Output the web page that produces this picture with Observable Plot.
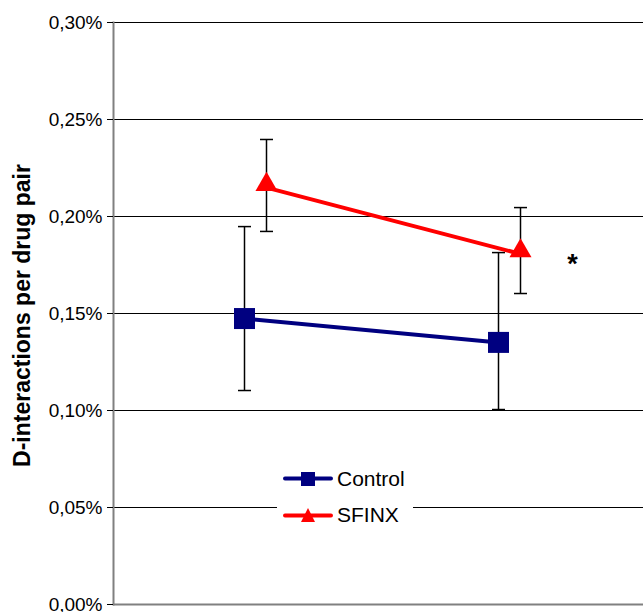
<!DOCTYPE html>
<html><head><meta charset="utf-8">
<script src="https://cdn.jsdelivr.net/npm/d3@7"></script>
<script src="https://cdn.jsdelivr.net/npm/@observablehq/plot@0.6"></script>
<style>
body{margin:0;background:#fff;}
#wrap{position:relative;width:643px;height:612px;font-family:"Liberation Sans",Arial,Helvetica,sans-serif;}
#legend{position:absolute;left:277px;top:463px;width:136px;height:68px;background:#fff;}
.item{position:absolute;left:6px;height:24px;display:flex;align-items:center;font-size:21px;color:#000;}
.item svg{margin-right:4px;}
</style>
</head><body><div id="wrap"></div>
<script>
const periods = ["Before", "After"];
const groups = ["Control", "SFINX"];
const colors = ["#000080", "#FF0000"];
const controlMean = [0.1474, 0.1351];
const controlLow = [0.1103, 0.1005];
const controlHigh = [0.1948, 0.1814];
const sfinxMean = [0.2149, 0.1807];
const sfinxLow = [0.1923, 0.1603];
const sfinxHigh = [0.2397, 0.2046];
const yTicks = [0, 0.05, 0.10, 0.15, 0.20, 0.25, 0.30];
const yLabel = "D-interactions per drug pair";
const significance = "*";

const control = periods.map((p, i) => ({period: p, mean: controlMean[i], low: controlLow[i], high: controlHigh[i]}));
const sfinx = periods.map((p, i) => ({period: p, mean: sfinxMean[i], low: sfinxLow[i], high: sfinxHigh[i]}));

const capSymbol = {draw(ctx) { ctx.moveTo(-6.5, 0); ctx.lineTo(6.5, 0); }};
const off = 22;

function errorMarks(data, dx) {
  return [
    Plot.ruleX(data, {x: "period", y1: "low", y2: "high", stroke: "#000", strokeWidth: 1.5, dx}),
    Plot.dot(data, {x: "period", y: "low", symbol: capSymbol, stroke: "#000", strokeWidth: 1.5, r: 5, dx}),
    Plot.dot(data, {x: "period", y: "high", symbol: capSymbol, stroke: "#000", strokeWidth: 1.5, r: 5, dx})
  ];
}

const chart = Plot.plot({
  width: 643,
  height: 612,
  marginLeft: 113,
  marginRight: 0,
  marginTop: 22,
  marginBottom: 8,
  style: {fontFamily: '"Liberation Sans", Arial, sans-serif', background: "#fff"},
  x: {type: "point", domain: periods, range: [243.5, 497.5], padding: 0, axis: null},
  y: {domain: [0, 0.30], label: null},
  marks: [
    Plot.ruleY(yTicks.filter(d => d > 0), {stroke: "#000", strokeWidth: 1}),
    Plot.ruleY([0], {stroke: "#808080", strokeWidth: 2}),
    Plot.frame({anchor: "left", stroke: "#808080", strokeWidth: 2}),
    Plot.axisY(yTicks, {tickSize: 6, tickPadding: 5, fontSize: 19, label: null, stroke: "#000",
      tickFormat: d => d.toFixed(2).replace(".", ",") + "%"}),
    Plot.text([yLabel], {frameAnchor: "left", text: d => d, rotate: -90, textAnchor: "middle", dx: -91, dy: 2,
      fontSize: 23, fontWeight: "bold", fill: "#000"}),
    ...errorMarks(control, 0),
    ...errorMarks(sfinx, off),
    Plot.line(control, {x: "period", y: "mean", stroke: colors[0], strokeWidth: 4}),
    Plot.line(sfinx, {x: "period", y: "mean", stroke: colors[1], strokeWidth: 4, dx: off}),
    Plot.dot(control, {x: "period", y: "mean", symbol: "square", r: 11.85, fill: colors[0]}),
    Plot.dot(sfinx, {x: "period", y: "mean", symbol: "triangle", r: 8.2, fill: colors[1], dx: off, dy: -3}),
    Plot.text(sfinx.slice(1), {x: "period", y: "mean", text: () => significance, dx: off + 52, dy: 10,
      fontSize: 27, fontWeight: "bold", fill: "#000"})
  ]
});

const wrap = document.getElementById("wrap");
wrap.appendChild(chart);

const legend = document.createElement("div");
legend.id = "legend";
groups.forEach((g, i) => {
  const item = document.createElement("div");
  item.className = "item";
  item.style.top = (i === 0 ? 4 : 40) + "px";
  const marker = i === 0
    ? `<rect x="18" y="0" width="14" height="14" fill="${colors[i]}"/>`
    : `<path d="M25,0 L32,14 L18,14 Z" fill="${colors[i]}"/>`;
  item.innerHTML = `<svg width="50" height="14" viewBox="0 0 50 14"><line x1="2" y1="${i===0?6.5:7.5}" x2="48" y2="${i===0?6.5:7.5}" stroke="${colors[i]}" stroke-width="4" stroke-linecap="round"/>${marker}</svg><span>${g}</span>`;
  legend.appendChild(item);
});
wrap.appendChild(legend);
</script>
</body></html>
